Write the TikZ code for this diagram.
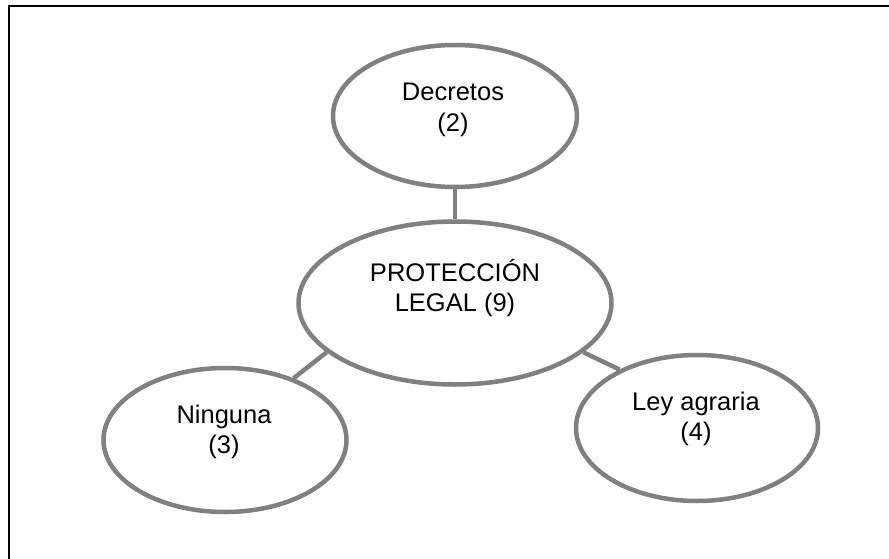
\documentclass[tikz,border=0pt]{standalone}
\usepackage{fontspec}
\setmainfont{Liberation Sans}
\usepackage{tikz}
\usetikzlibrary{shapes.geometric}
\usetikzlibrary{positioning}

\definecolor{ovalgray}{RGB}{128,128,128}

\begin{document}
\begin{tikzpicture}[x=1pt,y=1pt,yscale=-1,
  oval/.style={ellipse, draw=ovalgray, line width=4.5pt, inner sep=0pt},
  lbl/.style={align=center, font=\fontsize{25.5}{30.5}\selectfont, inner sep=0pt},
  link/.style={draw=ovalgray, line width=4.5pt}]
\useasboundingbox (0,0) rectangle (889,559);

% frame (only left and top edges are visible)
\draw [line width=2.7pt] (9,559) -- (9,6) -- (889,6);

\node [oval, minimum width=244, minimum height=142] (decretos) at (455,116) {};
\node [oval, minimum width=313, minimum height=163] (central) at (455,303) {};
\node [oval, minimum width=243, minimum height=144] (ninguna) at (225,440) {};
\node [oval, minimum width=242, minimum height=146] (ley) at (697,428) {};

\node [lbl] (decretos-txt) at (453,110) {Decretos\\(2)};
\node [lbl] (central-txt) at (455,288) {PROTECCIÓN\\LEGAL (9)};
\node [lbl] (ninguna-txt) at (224,432) {Ninguna\\(3)};
\node [lbl] (ley-txt) at (696,419) {Ley agraria\\(4)};

\draw [link] (decretos.south) -- (central.north);
\draw [link] (central.201) -- (ninguna.42);
\draw [link] (central.339) -- (ley.143);

\end{tikzpicture}
\end{document}
